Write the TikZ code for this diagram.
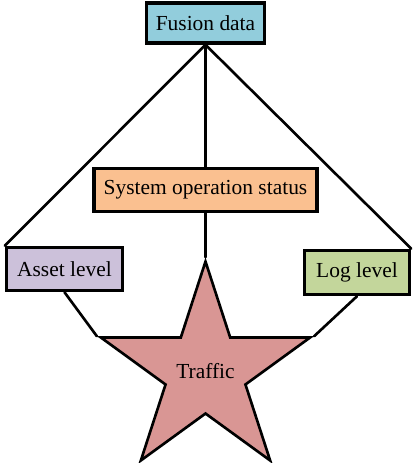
\documentclass[tikz,border=0pt]{standalone}
\usepackage{fontspec}
\setmainfont{Liberation Serif}
\usetikzlibrary{shapes.geometric}
\definecolor{fusionblue}{HTML}{92CDDC}
\definecolor{statusorange}{HTML}{FAC090}
\definecolor{assetpurple}{HTML}{CCC1DA}
\definecolor{loggreen}{HTML}{C3D69B}
\definecolor{trafficred}{HTML}{D99694}
\begin{document}
\begin{tikzpicture}[x=0.02cm, y=-0.02cm, font=\fontsize{12.2}{14}\selectfont]
			
			% Define custom style for the boxes and the lines
			\tikzstyle{box} = [rectangle, draw, line width=2pt, inner sep=2pt, align=center]
			\tikzstyle{link} = [line width=1.5pt, line cap=round]
			
			\useasboundingbox (0,0) rectangle (417,463);
			
			% Nodes at their places
			\node[box, fill=fusionblue, minimum width=2.36cm, minimum height=0.8cm] (fusion) at (205.5,23) {Fusion data};
			\node[box, fill=statusorange, minimum width=4.46cm, minimum height=0.86cm] (status) at (205.5,190) {System operation status};
			\node[box, fill=assetpurple, minimum width=2.32cm, minimum height=0.86cm] (asset) at (64.5,269) {Asset level};
			\node[box, fill=loggreen, minimum width=2.1cm, minimum height=0.88cm] (log) at (357,272.5) {Log level};
			\node[star, star points=5, star point ratio=2.618, draw, line width=1.5pt, fill=trafficred, inner sep=0pt, minimum size=4.4cm] (traffic) at (205.5,371.5) {Traffic};
			
			% Lines connecting the nodes
			\draw[link] (fusion.south) -- (asset.north west);
			\draw[link] (fusion.south) -- (log.north east);
			\draw[link] (fusion.south) -- (status.north);
			\draw[link] (status.south) -- (traffic.outer point 1);
			\draw[link] (asset.south) -- (traffic.outer point 2);
			\draw[link] (log.south) -- (traffic.outer point 5);
			
		\end{tikzpicture}
\end{document}
